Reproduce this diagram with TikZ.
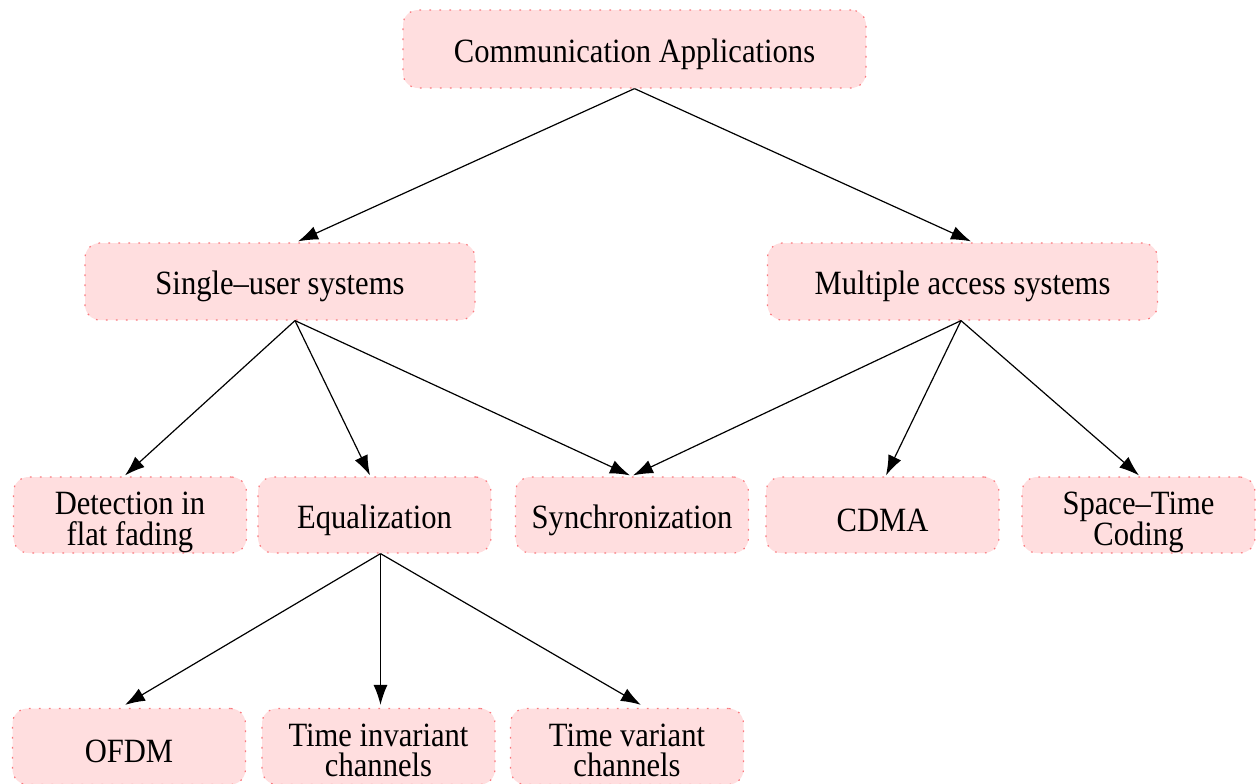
\documentclass[tikz,border=0pt]{standalone}
\usepackage{fontspec}
\setmainfont{Liberation Serif}
\usetikzlibrary{arrows.meta,calc}
\definecolor{boxfill}{RGB}{255,222,223}
\definecolor{boxline}{RGB}{250,120,125}
% slightly condensed label text, lowered a little inside its box
\newcommand{\sq}[1]{\raisebox{-2.5pt}[\height][\depth]{\scalebox{0.9}[1]{#1}}}
\newcommand{\two}[2]{\raisebox{-3.5pt}[\height][\depth]{\scalebox{0.9}[1]{%
  \renewcommand{\arraystretch}{0.87}\begin{tabular}{@{}c@{}}#1\\#2\end{tabular}}}}
\tikzset{
  box/.style={draw=boxline, fill=boxfill, line width=0.6pt,
    dash pattern=on 0.8pt off 4.2pt, rounded corners=7.5pt,
    inner sep=0pt, align=center,
    font=\fontsize{17}{13.3}\selectfont},
  wide/.style={box, minimum width=195pt, minimum height=38.5pt},
  small/.style={box, minimum width=116.5pt, minimum height=38pt},
  link/.style={-{Latex[length=10pt,width=7pt]}, line width=0.6pt, black}
}
\begin{document}
\begin{tikzpicture}[x=0.5pt,y=-0.5pt]
\useasboundingbox (0,0) rectangle (1258,783);
% top level
\node[box, minimum width=231.5pt, minimum height=39pt] (top) at (634.5,49) {\sq{Communication Applications}};
% second level
\node[wide] (su) at (280,281.5) {\sq{Single\textendash user systems}};
\node[wide] (ma) at (962.5,281.5) {\sq{Multiple access systems}};
% third level
\node[small] (det)  at (130,515)    {\two{Detection in}{flat fading}};
\node[small] (eq)   at (374.5,515)  {\sq{Equalization}};
\node[small] (sync) at (632,515)    {\sq{Synchronization}};
\node[small] (cdma) at (882.5,515)  {\sq{CDMA}};
\node[small] (st)   at (1138.5,515) {\two{Space\textendash Time}{Coding}};
% fourth level
\node[small] (ofdm) at (129,746.5)   {\sq{OFDM}};
\node[small] (tinv) at (378.5,746.5) {\two{Time invariant}{channels}};
\node[small] (tvar) at (627,746.5)   {\two{Time variant}{channels}};
% connectors
\draw[link] (top.south) -- ($(su.north)+(18,-1)$);
\draw[link] (top.south) -- ($(ma.north)+(8.5,-1)$);
\draw[link] ($(su.south)+(15,0)$) -- ($(det.north)+(-5,-1)$);
\draw[link] ($(su.south)+(15,0)$) -- ($(eq.north)+(-4.5,-1)$);
\draw[link] ($(su.south)+(15,0)$) -- ($(sync.north)+(-2,-1)$);
\draw[link] ($(ma.south)+(-1.5,0)$) -- ($(sync.north)+(1,-1)$);
\draw[link] ($(ma.south)+(-1.5,0)$) -- ($(cdma.north)+(3.5,-1)$);
\draw[link] ($(ma.south)+(-1.5,0)$) -- ($(st.north)+(0.5,-1)$);
\draw[link] ($(eq.south)+(6,0)$) -- ($(ofdm.north)+(-4,-3)$);
\draw[link] ($(eq.south)+(6,0)$) -- ($(tinv.north)+(2,-3)$);
\draw[link] ($(eq.south)+(6,0)$) -- ($(tvar.north)+(14,-3)$);
\end{tikzpicture}
\end{document}
